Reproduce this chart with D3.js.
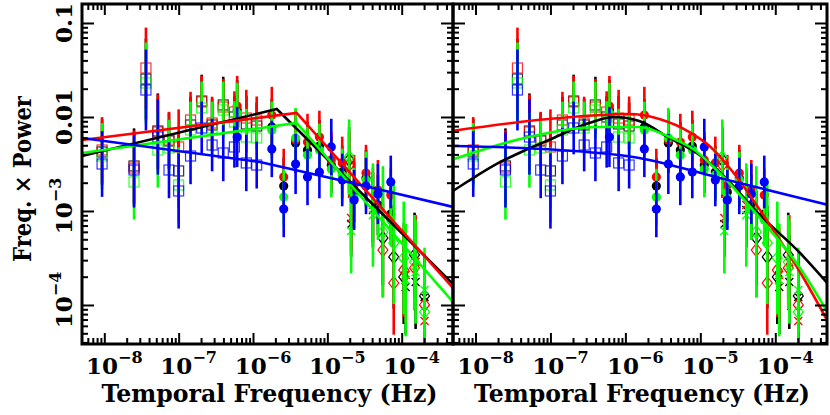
<!DOCTYPE html>
<html><head><meta charset="utf-8">
<script src="https://cdn.jsdelivr.net/npm/d3@7"></script>
<style>body{margin:0;background:#fff}svg{display:block}</style>
</head><body><svg id="c" width="830" height="415"></svg>
<script>
// All values are log10: frequency (Hz) and frequency x power
const colours = ["black", "red", "green", "blue"];
const colourHex = {black: "#000000", red: "#ff0000", green: "#00ff00", blue: "#0000ff"};

// Open squares (long time-scale segment)
const sqLogF  = [-8.03, -7.60, -7.44, -7.28, -7.13, -7.00, -6.84, -6.69, -6.55, -6.40, -6.25, -6.09, -5.95];
const sqBlack = [-2.372, -2.521, -1.596, -2.149, -2.255, -2.574, -2.085, -1.830, -2.085, -1.872, -2.000, -2.074, -2.096];
const sqRed   = [-2.351, -2.543, -1.479, -2.160, -2.245, -2.319, -2.032, -1.840, -2.064, -1.894, -1.947, -2.011, -2.032];
const sqGreen = [-2.415, -2.691, -1.638, -2.351, -2.330, -2.723, -2.138, -1.904, -2.117, -1.926, -2.053, -2.213, -2.223];
const sqBlue  = [-2.500, -2.564, -1.713, -2.213, -2.564, -2.787, -2.415, -2.117, -2.298, -2.383, -2.319, -2.489, -2.511];
const sqErr   = [0.35, 0.40, 0.43, 0.40, 0.30, 0.40, 0.30, 0.28, 0.28, 0.30, 0.22, 0.30, 0.25];

// Filled circles (medium time-scale segment)
const ciLogF  = [-6.213, -5.747, -5.587, -5.427, -5.267, -5.107, -4.947, -4.800, -4.640, -4.480, -4.320, -4.147];
const ciBlack = [-1.926, -2.106, -2.734, -2.277, -2.351, -2.309, -2.511, -2.585, -2.798, -2.649, -2.936, -3.032];
const ciRed   = [-1.883, -1.979, -2.638, -2.245, -2.266, -2.213, -2.457, -2.489, -2.723, -2.596, -2.777, -2.830];
const ciGreen = [-1.957, -2.138, -2.851, -2.223, -2.404, -2.351, -2.553, -2.617, -2.862, -2.670, -2.989, -3.096];
const ciBlue  = [-2.213, -2.340, -2.979, -2.500, -2.638, -2.585, -2.319, -2.670, -2.883, -2.734, -2.819, -2.691];
const ciErr   = [0.32, 0.30, 0.30, 0.32, 0.30, 0.28, 0.30, 0.28, 0.32, 0.30, 0.32, 0.28];

// Open diamonds (short time-scale segment A)
const diLogF  = [-4.707, -4.253, -4.107, -3.973, -3.827, -3.693];
const diBlack = [-2.457, -3.287, -3.489, -3.702, -3.468, -3.904];
const diRed   = [-2.511, -3.415, -3.766, -3.628, -3.606, -4.000];
const diGreen = [-2.426, -3.223, -3.340, -3.500, -3.543, -4.074];
const diErr   = [0.35, 0.50, 0.55, 0.50, 0.45, 0.45];
const diErrGreen = [0.40, 0.70, 0.65, 0.60, 0.50, 0.45];

// Crosses (short time-scale segment B)
const crLogF  = [-4.680, -4.387, -3.947, -3.813, -3.693];
const crBlack = [-3.138, -2.989, -3.809, -3.755, -3.915];
const crRed   = [-3.074, -2.936, -3.681, -3.543, -4.170];
const crGreen = [-3.213, -3.043, -3.734, -3.649, -3.840];
const crErr   = [0.35, 0.40, 0.50, 0.50, 0.45];
const crErrGreen = [0.45, 0.55, 0.60, 0.55, 0.45];

// Model curves (knots, log10 f, log10 fP)
const leftBlack = [[-8.30, -2.415], [-5.680, -1.915], [-3.31, -3.777]];
const leftRed   = [[-8.30, -2.245], [-5.413, -1.957], [-3.31, -3.819]];
const leftGreen = [[-8.30, -2.383], [-5.413, -2.064], [-3.31, -3.968]];
const leftBlue  = [[-8.30, -2.223], [-5.907, -2.479], [-4.840, -2.670], [-3.31, -2.957]];
const rightBlack = [[-8.322, -2.798], [-8.094, -2.681], [-7.692, -2.489], [-7.330, -2.351], [-7.021, -2.245], [-6.485, -2.064], [-6.150, -2.000], [-5.815, -2.043], [-5.413, -2.223], [-5.011, -2.404], [-4.743, -2.585], [-4.206, -3.043], [-3.670, -3.447], [-3.295, -3.777]];
const rightRed   = [[-8.322, -2.149], [-7.021, -2.021], [-5.949, -1.968], [-5.547, -2.021], [-5.145, -2.160], [-4.877, -2.309], [-4.609, -2.543], [-4.072, -3.149], [-3.670, -3.649], [-3.295, -4.181]];
const rightGreen = [[-8.322, -2.457], [-7.290, -2.213], [-6.351, -2.106], [-5.815, -2.106], [-5.413, -2.213], [-5.078, -2.351], [-4.810, -2.543], [-4.206, -3.074], [-3.670, -3.606], [-3.295, -4.085]];
const rightBlue  = [[-8.322, -2.309], [-6.887, -2.351], [-5.815, -2.436], [-4.743, -2.649], [-3.295, -2.936]];

// axes
const xDomainExp = [-8.30, -3.31];
const yDomainExp = [-4.415, -0.798];
const xLabelExps = [-8, -7, -6, -5, -4];
const yLabels = [{e: -1, t: "0.1"}, {e: -2, t: "0.01"}, {e: -3, t: "10", s: "\u22123"}, {e: -4, t: "10", s: "\u22124"}];
const xTitle = "Temporal Frequency (Hz)";
const yTitle = "Freq. \u00d7 Power";

const FONT = "'DejaVu Serif', serif";
const svg = d3.select("#c");
const plotTop = 4, plotBottom = 344;
const panels = [{x0: 82, x1: 453, models: [["black", leftBlack, d3.curveLinear], ["red", leftRed, d3.curveLinear], ["green", leftGreen, d3.curveLinear], ["blue", leftBlue, d3.curveLinear]]},
                {x0: 453, x1: 827, models: [["black", rightBlack, d3.curveMonotoneX], ["red", rightRed, d3.curveMonotoneX], ["green", rightGreen, d3.curveMonotoneX], ["blue", rightBlue, d3.curveMonotoneX]]}];

const symSets = [
  {type: "sq", f: sqLogF, vals: {black: sqBlack, red: sqRed, green: sqGreen, blue: sqBlue}, err: {black: sqErr, red: sqErr, green: sqErr, blue: sqErr}},
  {type: "ci", f: ciLogF, vals: {black: ciBlack, red: ciRed, green: ciGreen, blue: ciBlue}, err: {black: ciErr, red: ciErr, green: ciErr, blue: ciErr}},
  {type: "di", f: diLogF, vals: {black: diBlack, red: diRed, green: diGreen}, err: {black: diErr, red: diErr, green: diErrGreen}},
  {type: "cr", f: crLogF, vals: {black: crBlack, red: crRed, green: crGreen}, err: {black: crErr, red: crErr, green: crErrGreen}}
];

panels.forEach((p, pi) => {
  const x = d3.scaleLog().domain([10 ** xDomainExp[0], 10 ** xDomainExp[1]]).range([p.x0, p.x1]);
  const y = d3.scaleLog().domain([10 ** yDomainExp[0], 10 ** yDomainExp[1]]).range([plotBottom, plotTop]);
  const cid = "clip" + pi;
  svg.append("clipPath").attr("id", cid).append("rect")
    .attr("x", p.x0).attr("y", plotTop).attr("width", p.x1 - p.x0).attr("height", plotBottom - plotTop);
  const g = svg.append("g").attr("clip-path", `url(#${cid})`);

  colours.forEach(c => {
    symSets.forEach(s => {
      const v = s.vals[c];
      if (!v) return;
      v.forEach((lv, i) => {
        const e = s.err[c][i];
        g.append("line").attr("x1", x(10 ** s.f[i])).attr("x2", x(10 ** s.f[i]))
          .attr("y1", y(10 ** (lv + e))).attr("y2", y(10 ** (lv - e)))
          .attr("stroke", colourHex[c]).attr("stroke-width", 2.6);
      });
    });
    symSets.forEach(s => {
      const v = s.vals[c];
      if (!v) return;
      v.forEach((lv, i) => {
        const cx = x(10 ** s.f[i]), cy = y(10 ** lv);
        if (s.type === "sq") {
          g.append("rect").attr("x", cx - 5).attr("y", cy - 5).attr("width", 10).attr("height", 10)
            .attr("fill", "none").attr("stroke", colourHex[c]).attr("stroke-width", 1.2).attr("opacity", 0.8);
        } else if (s.type === "ci") {
          g.append("circle").attr("cx", cx).attr("cy", cy).attr("r", 4.6).attr("fill", colourHex[c]);
        } else if (s.type === "di") {
          g.append("path").attr("d", `M${cx},${cy - 6.5}L${cx + 5},${cy}L${cx},${cy + 6.5}L${cx - 5},${cy}Z`)
            .attr("fill", "none").attr("stroke", colourHex[c]).attr("stroke-width", 1.2);
        } else {
          g.append("path").attr("d", `M${cx - 4},${cy - 4}L${cx + 4},${cy + 4}M${cx - 4},${cy + 4}L${cx + 4},${cy - 4}`)
            .attr("fill", "none").attr("stroke", colourHex[c]).attr("stroke-width", 1.3);
        }
      });
    });
  });

  p.models.forEach(([c, pts, curve]) => {
    const line = d3.line().x(d => x(10 ** d[0])).y(d => y(10 ** d[1])).curve(curve);
    g.append("path").attr("d", line(pts)).attr("fill", "none")
      .attr("stroke", colourHex[c]).attr("stroke-width", 2.6).attr("stroke-linejoin", "miter");
  });

  const xMajor = [], xMinor = [], yMajor = [], yMinor = [];
  for (let d = -9; d <= -2; d++) for (let k = 1; k <= 9; k++) {
    const v = k * 10 ** d;
    if (v >= 10 ** xDomainExp[0] && v <= 10 ** xDomainExp[1]) (k === 1 ? xMajor : xMinor).push(v);
  }
  for (let d = -5; d <= 0; d++) for (let k = 1; k <= 9; k++) {
    const v = k * 10 ** d;
    if (v >= 10 ** yDomainExp[0] && v <= 10 ** yDomainExp[1]) (k === 1 ? yMajor : yMinor).push(v);
  }
  const addAx = (ax, tr) => {
    const a = svg.append("g").attr("transform", tr).call(ax);
    a.select(".domain").remove();
    a.selectAll("text").remove();
    a.selectAll("line").attr("stroke-width", 2);
  };
  addAx(d3.axisBottom(x).tickValues(xMajor).tickSize(-11).tickFormat(""), `translate(0,${plotBottom})`);
  addAx(d3.axisBottom(x).tickValues(xMinor).tickSize(-6).tickFormat(""), `translate(0,${plotBottom})`);
  addAx(d3.axisTop(x).tickValues(xMajor).tickSize(-11).tickFormat(""), `translate(0,${plotTop})`);
  addAx(d3.axisTop(x).tickValues(xMinor).tickSize(-6).tickFormat(""), `translate(0,${plotTop})`);
  addAx(d3.axisLeft(y).tickValues(yMajor).tickSize(-12).tickFormat(""), `translate(${p.x0},0)`);
  addAx(d3.axisLeft(y).tickValues(yMinor).tickSize(-6).tickFormat(""), `translate(${p.x0},0)`);
  addAx(d3.axisRight(y).tickValues(yMajor).tickSize(-12).tickFormat(""), `translate(${p.x1},0)`);
  addAx(d3.axisRight(y).tickValues(yMinor).tickSize(-6).tickFormat(""), `translate(${p.x1},0)`);

  svg.append("rect").attr("x", p.x0).attr("y", plotTop).attr("width", p.x1 - p.x0).attr("height", plotBottom - plotTop)
    .attr("fill", "none").attr("stroke", "#000").attr("stroke-width", 3);

  xLabelExps.forEach(e => {
    const t = svg.append("text").attr("x", x(10 ** e) + 10).attr("y", 374).attr("text-anchor", "middle")
      .attr("font-family", FONT).attr("font-weight", "bold").attr("font-size", 23);
    t.append("tspan").text("10");
    t.append("tspan").attr("font-size", 16).attr("dy", -11).text("\u2212" + (-e));
  });
  svg.append("text").attr("x", (p.x0 + p.x1) / 2 + 2).attr("y", 402).attr("text-anchor", "middle")
    .attr("font-family", FONT).attr("font-weight", "bold").attr("font-size", 24)
    .attr("textLength", 336).attr("lengthAdjust", "spacingAndGlyphs").text(xTitle);

  if (pi === 0) {
    yLabels.forEach(l => {
      const t = svg.append("text").attr("transform", `translate(72,${y(10 ** l.e) - (l.s ? 5 : 0)}) rotate(-90)`)
        .attr("text-anchor", "middle").attr("font-family", FONT).attr("font-weight", "bold").attr("font-size", 23);
      t.append("tspan").text(l.t);
      if (l.s) t.append("tspan").attr("font-size", 16).attr("dy", -11).text(l.s);
    });
    svg.append("text").attr("transform", `translate(31,179) rotate(-90)`).attr("text-anchor", "middle")
      .attr("font-family", FONT).attr("font-weight", "bold").attr("font-size", 24)
      .attr("textLength", 166).attr("lengthAdjust", "spacingAndGlyphs").text(yTitle);
  }
});
</script></body></html>
